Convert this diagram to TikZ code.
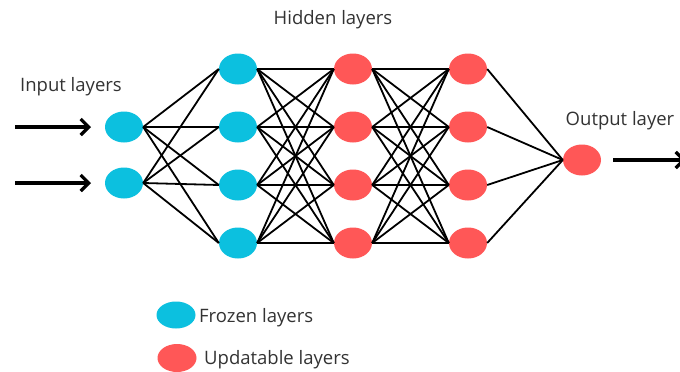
\documentclass[tikz,border=0pt]{standalone}
\usepackage{fontspec}
\setmainfont{Open Sans}
\usetikzlibrary{arrows.meta,shapes.geometric}
\definecolor{frozen}{HTML}{0CC0DF}
\definecolor{upd}{HTML}{FF5757}
\definecolor{txt}{HTML}{333333}
\begin{document}
\begin{tikzpicture}[x=1pt,y=-1pt,
  neuron/.style={ellipse,minimum width=38pt,minimum height=31pt,inner sep=0pt,draw=none},
  fz/.style={neuron,fill=frozen},
  up/.style={neuron,fill=upd},
  conn/.style={line width=1.8pt,black},
  bigarrow/.style={line width=3.2pt,-{Straight Barb[length=8pt,width=16pt]}},
  lbl/.style={text=txt,font=\fontsize{18.5}{22}\selectfont,inner sep=0pt}]
\useasboundingbox (0,0) rectangle (680,372);
\fill[white] (0,0) rectangle (680,372);
% input
\node[fz] (i1) at (124,127) {};
\node[fz] (i2) at (124,183) {};
% hidden
\foreach \y [count=\k] in {69,127,185,243} {
  \node[fz] (a\k) at (238,\y) {};
  \node[up] (b\k) at (353,\y) {};
  \node[up] (c\k) at (468,\y) {};
}
\node[up] (o) at (582,160) {};
% connections
\foreach \i in {1,2} \foreach \k in {1,...,4} \draw[conn] (i\i.east) -- (a\k.west);
\foreach \i in {1,...,4} \foreach \k in {1,...,4} {
  \draw[conn] (a\i.east) -- (b\k.west);
  \draw[conn] (b\i.east) -- (c\k.west);
}
\foreach \i in {1,...,4} \draw[conn] (c\i.east) -- (o.west);
% arrows
\coordinate (s1) at (15,127);
\coordinate (s2) at (15,183);
\coordinate (e1) at (91,127);
\coordinate (e2) at (91,183);
\draw[bigarrow] (s1) -- (e1);
\draw[bigarrow] (s2) -- (e2);
\coordinate (oe) at (686,160);
\draw[bigarrow] ([xshift=12pt]o.east) -- (oe);
% labels
\node[lbl] (hl) at (333,20) {Hidden layers};
\node[lbl] (il) at (71,87) {Input layers};
\node[lbl] (ol) at (620,121) {Output layer};
% legend
\node[fz,minimum width=39pt,minimum height=27pt] (lf) at (176,315) {};
\node[up,minimum width=39pt,minimum height=28pt] (lu) at (177,358) {};
\node[lbl,anchor=west] (tf) at (199,318) {Frozen layers};
\node[lbl,anchor=west] (tu) at (204,360) {Updatable layers};
\end{tikzpicture}
\end{document}
